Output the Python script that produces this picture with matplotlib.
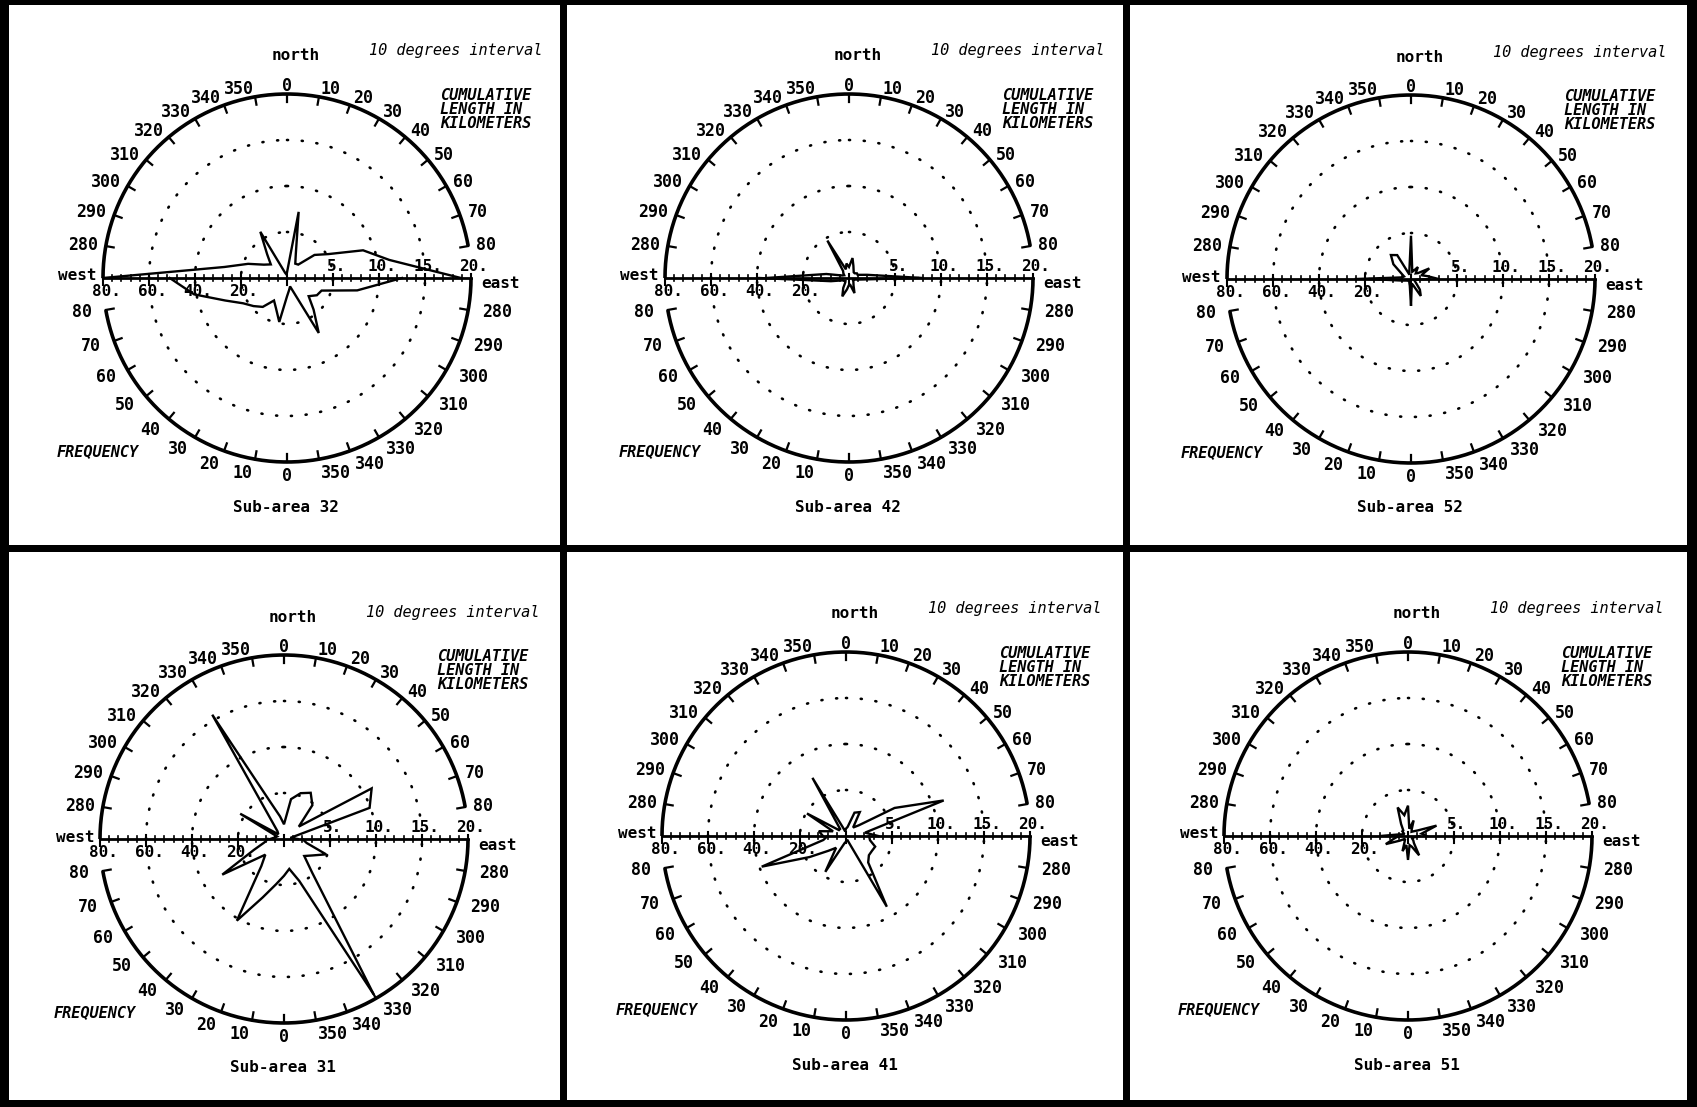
import numpy as np
import matplotlib
matplotlib.use('Agg')
import matplotlib.pyplot as plt
from matplotlib.patches import Rectangle

plt.rcParams['font.family'] = 'DejaVu Sans Mono'

W, H = 1697, 1107
R = 184  # radius of the outer circle in px

# 10 degree classes, from west over north to east
directions = [270, 280, 290, 300, 310, 320, 330, 340, 350, 0,
              10, 20, 30, 40, 50, 60, 70, 80, 90]

# cumulative length in km (upper half, scale 0-20)
length_32 = [20, 6.9, 4.5, 2.9, 2.3, 3.35, 5.8, 0.6, 0.4, 0.6, 7.3, 2.8, 1.8, 1.9, 3.9, 5.2, 8.8, 11.3, 18.9]
length_42 = [9, 2.5, 0.8, 0.6, 0.8, 1.0, 4.7, 1.0, 1.6, 1.2, 2.2, 1.4, 1.0, 0.8, 0.8, 1.0, 1.0, 2.0, 8]
length_52 = [6, 1.0, 0.8, 1.2, 2.5, 3.4, 3.0, 0.5, 1.0, 4.7, 0.8, 1.0, 1.5, 0.8, 1.0, 2.3, 1.2, 1.8, 3]
length_31 = [1.5, 1.0, 0.8, 5.5, 0.8, 1.1, 15.6, 4.2, 2.5, 1.6, 4.4, 5.3, 5.8, 4.8, 2.1, 11, 9.9, 0.7, 1.5]
length_41 = [2.5, 3.0, 1.5, 4.9, 1.0, 1.0, 7.3, 1.0, 0.5, 0.8, 1.0, 2.7, 3.0, 1.2, 1.8, 6.1, 11.3, 2.1, 3.5]
length_51 = [3, 1.0, 0.5, 0.5, 0.8, 0.8, 1.5, 3.3, 2.3, 3.3, 0.8, 1.8, 0.8, 0.6, 0.8, 1.2, 3.3, 1.5, 2]

# frequency (lower half, scale 0-80)
freq_32 = [50, 31, 16, 15, 12.3, 18, 27.6, 3.9, 5.3, 8, 19.4, 14, 11.3, 16.4, 19, 22, 28.6, 41, 51]
freq_42 = [30, 4, 2, 2, 2.5, 3, 4, 7, 3, 3, 5, 8.5, 5, 2.5, 2, 2.5, 3, 8, 39]
freq_52 = [8, 2, 1.5, 2, 3, 6, 8.5, 3, 2, 11.7, 3, 2, 1.5, 1, 1, 1.5, 2, 4, 18]
freq_31 = [8, 10, 19.5, 14.3, 11.5, 19, 78, 19.4, 13.2, 16, 20, 27, 41, 15.3, 10.6, 31, 14, 8.7, 7]
freq_41 = [10, 10.6, 13.5, 13, 13, 15, 35.5, 2, 2, 2.5, 3, 5, 18, 6.7, 10, 18.3, 39, 10, 8]
freq_51 = [5, 3, 2, 2, 3, 4, 9.7, 5, 4, 10.4, 4, 7, 3, 2, 2, 4, 10.3, 6, 4]

sub_areas = ['32', '42', '52', '31', '41', '51']
lengths = {'32': length_32, '42': length_42, '52': length_52,
           '31': length_31, '41': length_41, '51': length_51}
freqs = {'32': freq_32, '42': freq_42, '52': freq_52,
         '31': freq_31, '41': freq_41, '51': freq_51}

# layout (px)
centers = {'32': (287, 278), '42': (849, 278), '52': (1411, 279),
           '31': (284, 839), '41': (846, 836), '51': (1408, 836)}
cols = [(9, 560), (567, 1123), (1130, 1687)]
rows = [(5, 545), (552, 1100)]


def polar(cx, cy, ang, r):
    a = np.radians(ang)
    return cx + r * np.sin(a), cy - r * np.cos(a)


def degree_label(ax, cx, cy, screen, text, r):
    x, y = polar(cx, cy, screen, r)
    s = np.sin(np.radians(screen))
    ha = 'left' if s > 0.1 else ('right' if s < -0.1 else 'center')
    ax.text(x, y, text, ha=ha, va='center', fontsize=12, fontweight='bold')


def draw_panel(ax, name):
    cx, cy = centers[name]
    # dotted rings
    t = np.linspace(0, 360, 721)
    for k in (1, 2, 3):
        x, y = polar(cx, cy, t, R * k / 4)
        ax.plot(x, y, color='black', lw=1.9, ls=(0, (0.4, 5.2)),
                dash_capstyle='round')
    # outer arcs
    for a0, a1 in ((-90, 80), (90, 260)):
        t = np.linspace(a0, a1, 300)
        x, y = polar(cx, cy, t, R)
        ax.plot(x, y, color='black', lw=2.6, solid_capstyle='butt')
    # upper ticks: 280 .. 80
    for s in range(-80, 81, 10):
        x, y = polar(cx, cy, np.array([s, s]), np.array([R, R - 8]))
        ax.plot(x, y, color='black', lw=1.6)
        degree_label(ax, cx, cy, s, str(s % 360), R + 8)
    # lower ticks: 280 .. 0 .. 80 (reversed)
    for s in range(100, 261, 10):
        x, y = polar(cx, cy, np.array([s, s]), np.array([R, R - 8]))
        ax.plot(x, y, color='black', lw=1.6)
        degree_label(ax, cx, cy, s, str((s + 180) % 360), R + 14)
    # east-west axis
    ax.plot([cx - R, cx + R], [cy, cy], color='black', lw=2.0)
    for i in range(-20, 21):
        xi = cx + i * R / 20
        if i % 5 == 0:
            ax.plot([xi, xi], [cy - 4, cy + 7], color='black', lw=1.5)
        else:
            ax.plot([xi, xi], [cy - 3, cy + 3], color='black', lw=1.2)
    for k, lab in enumerate(['5.', '10.', '15.', '20.'], start=1):
        ax.text(cx + k * R / 4 + 3, cy - 4, lab, ha='center', va='bottom',
                fontsize=11.5, fontweight='bold')
    for k, lab in enumerate(['20.', '40.', '60.', '80.'], start=1):
        ax.text(cx - k * R / 4 + 3, cy + 6, lab, ha='center', va='top',
                fontsize=11.5, fontweight='bold')
    ax.text(cx - R - 6, cy - 2, 'west', ha='right', va='center',
            fontsize=11.5, fontweight='bold')
    ax.text(cx + R + 10, cy + 6, 'east', ha='left', va='center',
            fontsize=11.5, fontweight='bold')

    # rose diagrams
    d = np.array(directions)
    x, y = polar(cx, cy, d, np.array(lengths[name]) / 20 * R)
    ax.plot(x, y, color='black', lw=1.7, solid_joinstyle='miter')
    x, y = polar(cx, cy, d + 180, np.array(freqs[name]) / 80 * R)
    ax.plot(x, y, color='black', lw=1.7, solid_joinstyle='miter')

    # annotations
    ax.text(cx + 9, cy - 222, 'north', ha='center', va='center',
            fontsize=11.5, fontweight='bold')
    ax.text(cx + 82, cy - 227, '10 degrees interval', ha='left', va='center',
            fontsize=11, fontstyle='oblique')
    ax.text(cx + 153, cy - 190, 'CUMULATIVE\nLENGTH IN\nKILOMETERS', ha='left',
            va='top', fontsize=11, fontweight='bold', fontstyle='oblique',
            linespacing=0.92)
    ax.text(cx - 230, cy + 174, 'FREQUENCY', ha='left', va='center',
            fontsize=11, fontweight='bold', fontstyle='oblique')
    ax.text(cx - 1, cy + 229, 'Sub-area ' + name, ha='center', va='center',
            fontsize=11.5, fontweight='bold')


fig = plt.figure(figsize=(W / 100, H / 100), dpi=100, facecolor='black')
ax = fig.add_axes([0, 0, 1, 1])
ax.set_xlim(0, W)
ax.set_ylim(H, 0)
ax.axis('off')

for y0, y1 in rows:
    for x0, x1 in cols:
        ax.add_patch(Rectangle((x0, y0), x1 - x0, y1 - y0, facecolor='white',
                               edgecolor='none', zorder=0))

for name in sub_areas:
    draw_panel(ax, name)

fig.savefig('out.png', dpi=100, facecolor='black')
